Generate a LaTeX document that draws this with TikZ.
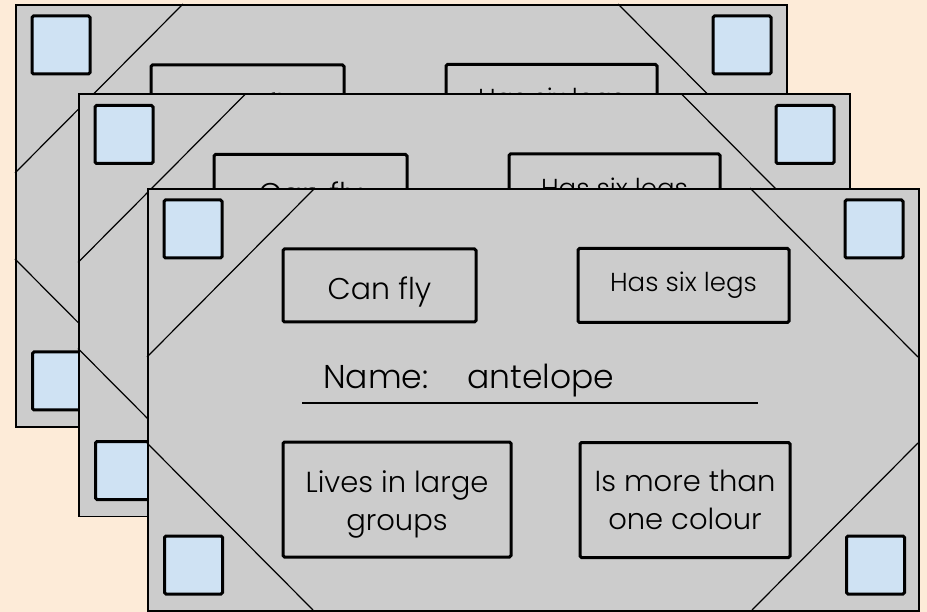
\documentclass[tikz,border=0pt]{standalone}
\usepackage{fontspec}
\setmainfont{Poppins}[UprightFont={* Light}]
\definecolor{pagebg}{HTML}{FDEBD8}
\definecolor{cardgray}{HTML}{CCCCCC}
\definecolor{sqblue}{HTML}{CFE2F3}
\tikzset{
  cardbody/.style={fill=cardgray, draw=black, line width=1.8pt, inner sep=0pt,
    minimum width=771pt, minimum height=422pt, anchor=north west},
  cutline/.style={draw=black, line width=1.2pt},
  cornersq/.style={fill=sqblue, draw=black, line width=3pt, rounded corners=1.5pt,
    minimum width=58pt, minimum height=58pt, inner sep=0pt},
  infobox/.style={draw=black, line width=3pt, rounded corners=1.5pt, align=center,
    inner sep=0pt, text=black},
  nameline/.style={draw=black, line width=1.5pt},
  nametext/.style={font=\fontsize{33}{40}\selectfont, inner sep=0pt, text=black},
  pics/card/.style={code={
    \node[cardbody] (-body) at (0,0) {};
    \draw[cutline] (168,0) -- (0,169);
    \draw[cutline] (603,0) -- (771,169);
    \draw[cutline] (0,255) -- (166,422);
    \draw[cutline] (771,255) -- (605,422);
    \node[cornersq] (-tl) at (46,41) {};
    \node[cornersq] (-tr) at (727,41) {};
    \node[cornersq] (-bl) at (46.5,377) {};
    \node[cornersq] (-br) at (728.5,377) {};
    \node[infobox, minimum width=193pt, minimum height=73pt,
      font=\fontsize{30}{36}\selectfont] (-canfly) at (232.5,97.5) {\rule{0pt}{35pt}Can fly};
    \node[infobox, minimum width=211pt, minimum height=74pt,
      font=\fontsize{26}{32}\selectfont] (-sixlegs) at (536.5,97.5) {Has six legs};
  }}
}
\begin{document}
\begin{tikzpicture}[x=1pt,y=-1pt]
\fill[pagebg] (0,0) rectangle (927,612);
\useasboundingbox (0,0) rectangle (927,612);
\pic (back) at (15,4) {card};
\pic (middle) at (78,93.5) {card};
\pic (front) at (147,188) {card};
\begin{scope}[shift={(147,188)}]
  \draw[nameline] (155,215) -- (611,215);
  \node[infobox, minimum width=228pt, minimum height=115pt,
    font=\fontsize{29}{38}\selectfont] (front-groups) at (250,311.5) {\rule{0pt}{31pt}Lives in large\\groups};
  \node[infobox, minimum width=210pt, minimum height=115pt,
    font=\fontsize{29}{38}\selectfont] (front-colour) at (538,312) {Is more than\\one colour};
\end{scope}
\node[nametext, anchor=base west] (frontname) at (323,389) {\makebox[144pt][l]{Name:}antelope};
\end{tikzpicture}
\end{document}
